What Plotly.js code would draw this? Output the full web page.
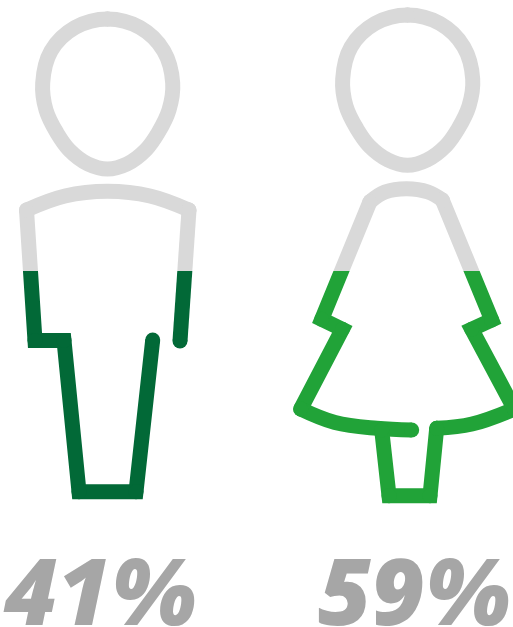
<!DOCTYPE html>
<html><head><meta charset="utf-8">
<script src="https://cdn.plot.ly/plotly-3.0.1.min.js"></script>
<style>html,body{margin:0;padding:0;background:#fff;overflow:hidden}</style>
</head><body><div id="chart" style="width:513px;height:627px"></div>
<script>
const labels = ["41%", "59%"];
const labelX = [99, 414];
const fillLevel = 271;

const manHeadX = [107.5,140,163.8,172.7,169,158,145.7,127,107.5,88,69.3,57,46,42.7,51,75,107.5];
const manHeadY = [19,27.6,51,83,110,133,150,164,169,164,150,133,110,83,51,27.6,19];
const manShoulderX = [26.5,65,107.5,150,189];
const manShoulderY = [210,196,191.3,196,210];
const manLeftX = [26.5,35,64,79,136,152.7];
const manLeftY = [210,340.5,340.5,491.7,491.7,340];
const manRightX = [189,180];
const manRightY = [210,341];

const womanHeadX = [407.5,440,463.8,472.7,469,458,445.7,427,407.5,388,369.3,357,346,342.7,351,375,407.5];
const womanHeadY = [15,23.6,47,79,106,129,146,160,165.3,160,146,129,106,79,47,23.6,15];
const womanShoulderX = [370,385,406.7,428,442.3];
const womanShoulderY = [201.7,192,188.7,192,200];
const womanLeftX = [370,321.7,342.3,300.7];
const womanLeftY = [201.7,319.3,329.3,409];
const womanSkirtLeftX = [300.7,335,376.7,411.7];
const womanSkirtLeftY = [409,422.5,428.3,430];
const womanStemX = [381.7,389,430,436.7];
const womanStemY = [430,495.7,495.7,428.3];
const womanSkirtRightX = [436.7,472,514.3];
const womanSkirtRightY = [428.3,424,409];
const womanRightX = [514.3,471.7,491.7,442.3];
const womanRightY = [409,329.3,320,200];

const GRAY = "#D9D9D9", DARK = "#026937", LIGHT = "#21A338", W = 15;

const manParts = [
  [manHeadX,manHeadY,"spline"],[manShoulderX,manShoulderY,"spline"],
  [manLeftX,manLeftY,"linear"],[manRightX,manRightY,"linear"]];
const womanParts = [
  [womanHeadX,womanHeadY,"spline"],[womanShoulderX,womanShoulderY,"spline"],
  [womanLeftX,womanLeftY,"linear"],[womanSkirtLeftX,womanSkirtLeftY,"spline"],
  [womanStemX,womanStemY,"linear"],[womanSkirtRightX,womanSkirtRightY,"spline"],
  [womanRightX,womanRightY,"linear"]];

function part(p, color, yaxis) {
  const spline = p[2] === "spline";
  const n = p[0].length;
  return {
    type: "scatter", mode: "lines+markers", x: p[0], y: p[1], xaxis: "x", yaxis,
    hoverinfo: "skip", showlegend: false, cliponaxis: true,
    line: {color, width: W, shape: p[2], smoothing: 1.1},
    marker: {color, opacity: 1, sizemode: "diameter", sizeref: 1,
      size: p[0].map((_, i) => (spline && i > 0 && i < n - 1) ? 0 : W), line: {width: 0}}
  };
}
const traces = [];
manParts.forEach(p => { traces.push(part(p, GRAY, "y")); traces.push(part(p, DARK, "y2")); });
womanParts.forEach(p => { traces.push(part(p, GRAY, "y")); traces.push(part(p, LIGHT, "y2")); });

const H = 627;
const hidden = {visible: false, fixedrange: true};
const layout = {
  width: 513, height: H, margin: {l:0,r:0,t:0,b:0,pad:0},
  paper_bgcolor: "#fff", plot_bgcolor: "rgba(0,0,0,0)", showlegend: false,
  xaxis: Object.assign({range:[0,513], domain:[0,1]}, hidden),
  yaxis: Object.assign({range:[fillLevel,0], domain:[1-fillLevel/H,1]}, hidden),
  yaxis2: Object.assign({range:[H,fillLevel], domain:[0,1-fillLevel/H]}, hidden),
  annotations: labels.map((t,i) => ({
    text: t, x: labelX[i], y: 589, xref:"x", yref:"y2",
    xanchor:"center", yanchor:"middle", showarrow:false,
    font:{family:"'Open Sans', sans-serif", size:92, weight:800, style:"italic", color:"#A6A6A6"}
  }))
};
Plotly.newPlot("chart", traces, layout, {displayModeBar:false, staticPlot:true});
</script></body></html>
